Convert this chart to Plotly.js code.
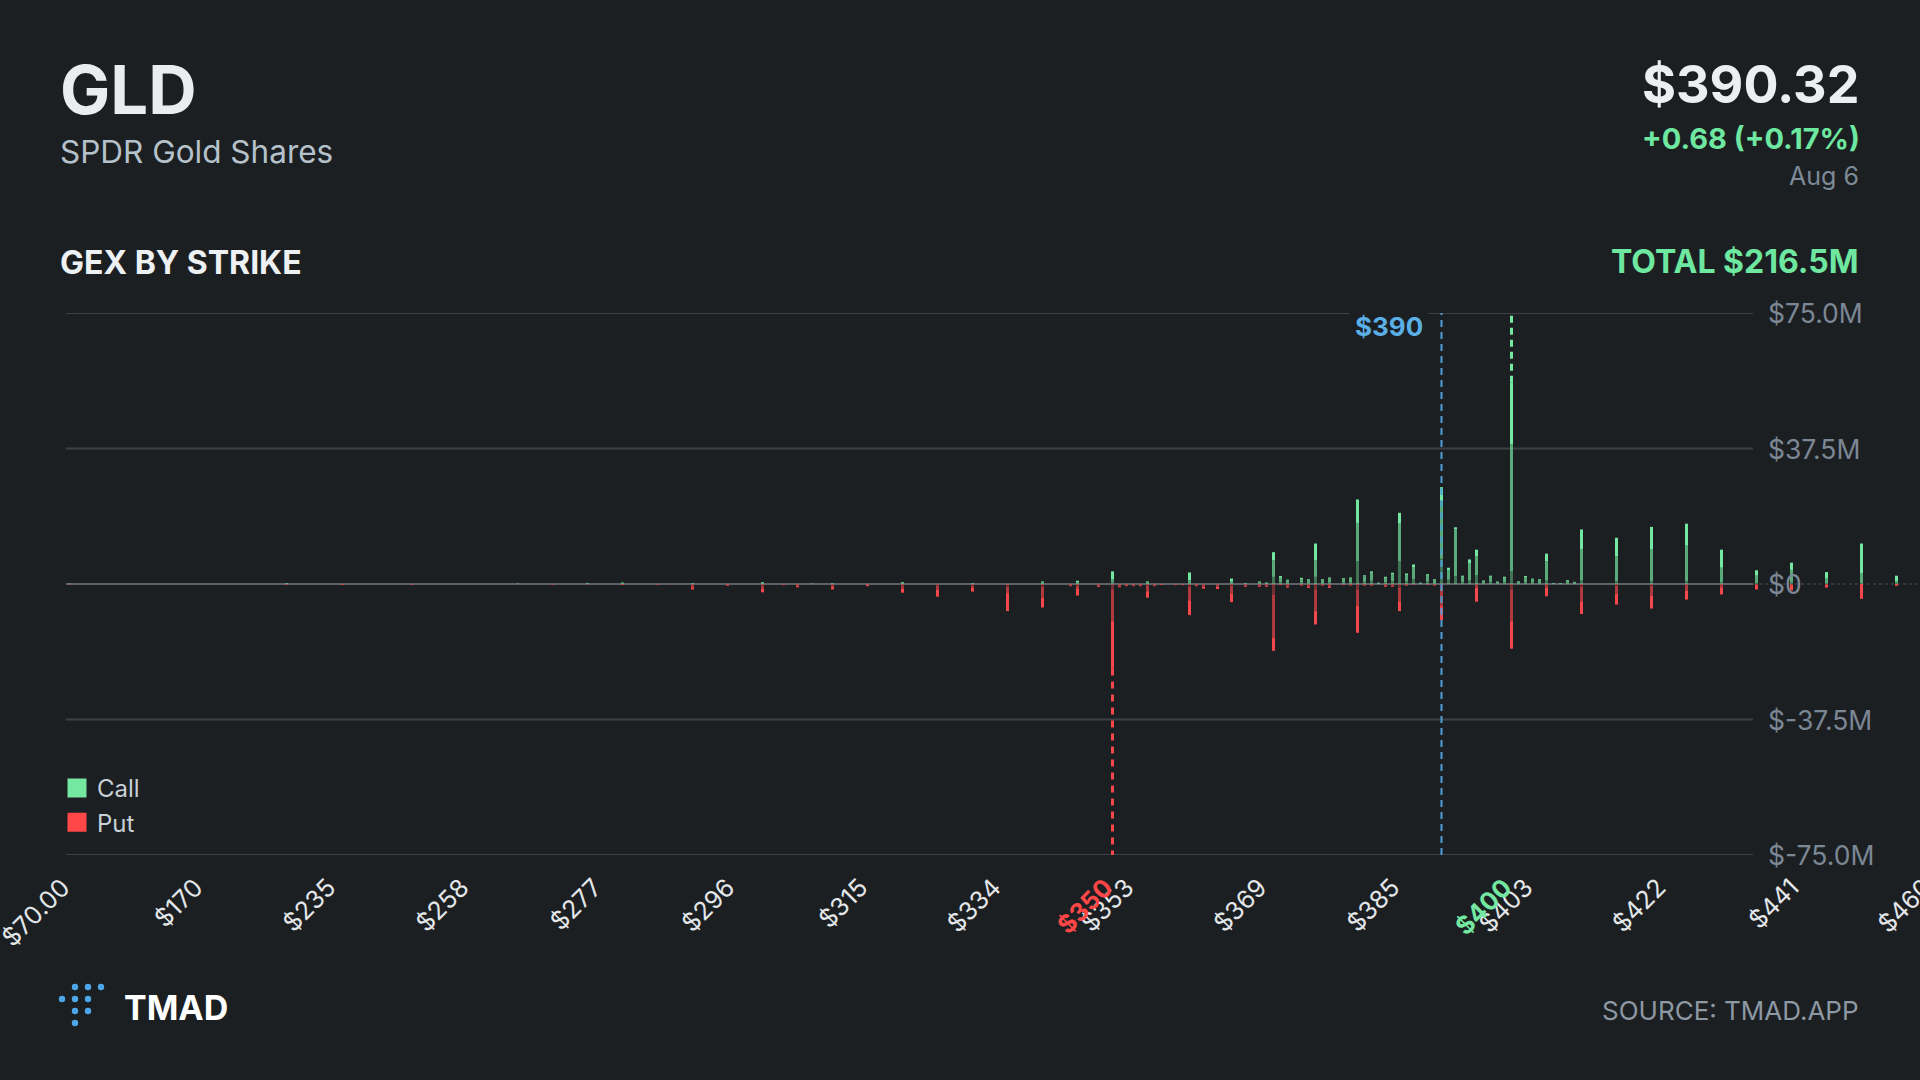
<!DOCTYPE html>
<html>
<head>
<meta charset="utf-8">
<script src="https://cdn.plot.ly/plotly-3.0.1.min.js"></script>
<style>
html,body{margin:0;padding:0;background:#1c1f22;overflow:hidden;width:1920px;height:1080px;}
#chart{width:1960px;height:1080px;}
</style>
</head>
<body>
<div id="chart"></div>
<script>
// ---------- header text ----------
const ticker = "GLD";
const fundName = "SPDR Gold Shares";
const priceText = "$390.32";
const changeText = "+0.68 (+0.17%)";
const dateText = "Aug 6";
const sectionTitle = "GEX BY STRIKE";
const totalText = "TOTAL $216.5M";
const brandText = "TMAD";
const sourceText = "SOURCE: TMAD.APP";

// ---------- categories (all strikes on the axis) ----------
const strikes = [
  70,75,80,85,90,95,100,105,110,115,120,125,130,135,140,145,150,155,160,
  170,180,190,195,200,205,210,215,220,225,226,227,228,229,230,231,232,233,234,235,240,
  241,242,243,244,245,246,247,248,249,250,
  251,252,253,254,255,256,257,258,259,260,
  261,262,263,264,265,266,267,268,269,270,
  271,272,273,274,275,276,277,278,279,280,
  281,282,283,284,285,286,287,288,289,290,
  291,292,293,294,295,296,297,298,299,300,
  301,302,303,304,305,306,307,308,309,310,
  311,312,313,314,315,316,317,318,319,320,
  321,322,323,324,325,326,327,328,329,330,
  331,332,333,334,335,336,337,338,339,340,
  341,342,343,344,345,346,347,348,349,350,
  351,352,353,354,355,
  356,357,357.5,358,359,360,361,362,362.5,363,364,365,
  366,367,367.5,368,369,370,371,372,372.5,373,374,375,
  376,377,377.5,378,379,380,381,382,382.5,383,384,385,
  386,387,387.5,388,389,390,
  391,392,393,394,395,396,397,398,399,400,
  401,402,403,404,405,406,407,408,409,410,
  411,412,413,414,415,416,417,418,419,420,
  421,422,423,424,425,426,427,428,429,430,
  431,432,433,434,435,436,437,438,439,440,
  441,442,443,444,445,446,447,448,449,450,
  451,452,453,454,455,456,457,458,459,460,
  461,462,463,464,465
];
const tickStrikes = [70,170,235,258,277,296,315,334,353,369,385,403,422,441,460];
const tickLabels = ["$70.00","$170","$235","$258","$277","$296","$315","$334","$353","$369","$385","$403","$422","$441","$460"];

// ---------- bars: strikes that carry GEX ($M), split by expiry bucket ----------
const barStrikes = [70,228,240,250,265,270,275,280,285,287,
  290,295,300,303,305,307,310,315,320,325,
  330,335,340,344,345,348,350,351,352,353,
  354,355,356,357,358,359,360,361,362,363,
  365,367,368,369,370,371,372,373,374,375,
  376,377,378,379,380,381,382,382.5,383,384,
  385,386,387,387.5,388,389,390,391,392,393,
  394,395,396,397,398,399,400,401,402,403,
  404,405,406,407,408,409,410,415,420,425,
  430,435,440,445,450,455];
const callFar = [0,0,0,0,0,0,0.1,0.1,0,0,
  0,0,0.1,0,0,0,0,0,0.1,0,
  0,0,0.1,0,0.1,0,0.5,0,0,0,
  0,0.1,0,0,0,0,0.3,0,0,0,
  0.2,0.1,0.2,0.1,2.0,0.5,0.3,0.4,0.3,2.0,
  0.3,0.4,0.4,0.4,6.3,0.6,0.9,0.1,0.5,0.8,
  6.3,0.7,1.4,0.1,0.7,0.3,7.0,1.2,2.2,0.6,
  1.0,2.4,0.3,0.6,0.2,0.5,3.5,0.2,0.5,0.4,
  0.3,1.0,0.1,0,0.3,0.1,1.0,0.8,0.8,0.8,
  0.5,0.3,0.4,0.2,0.3,0.2];
const callMid = [0.1,0.2,0,0,0.1,0,0.2,0.2,0,0,
  0.2,0,0.2,0,0,0.1,0.1,0,0.2,0,
  0.1,0,0.3,0,0.3,0,0.8,0,0,0,
  0,0.3,0,0,0,0,0.7,0,0,0,
  0.5,0.2,0.4,0.2,4.6,1.2,0.7,1.0,0.8,4.6,
  0.8,1.1,1.0,1.1,10.6,1.5,2.2,0.3,1.2,1.9,
  10.4,1.8,3.3,0.3,1.6,0.8,15.9,2.7,13.0,1.4,
  4.8,5.3,0.6,1.4,0.4,1.2,35.1,0.5,1.4,0.9,
  0.8,5.3,0.2,0.2,0.6,0.4,8.7,6.9,8.7,9.8,
  4.0,2.0,3.5,1.3,2.6,0.6];
const callNear = [0,0,0,0,0,0,0,0.1,0,0,
  0,0,0.2,0,0,0,0.1,0,0.2,0,
  0.1,0,0.3,0,0.5,0,2.2,0,0,0,
  0,0.3,0,0,0,0,2.2,0,0,0,
  0.8,0,0.1,0.1,2.2,0.5,0.2,0.3,0.2,4.6,
  0.2,0.3,0.2,0.3,6.5,0.3,0.4,0,0.3,0.4,
  3.0,0.4,0.7,0,0.4,0.2,3.9,0.6,0.5,0.3,
  1.0,1.8,0.1,0.3,0.1,0.3,17.1,0.1,0.3,0.2,
  0.2,2.1,0,0,0.2,0.1,5.4,5.1,6.3,6.1,
  5.0,1.5,2.0,1.8,8.3,1.5];
const putFar = [0,0,0,0,0,0,0,0,0,0,
  -0.3,-0.1,-0.4,0,-0.1,0,-0.3,-0.1,-0.4,-0.5,
  -0.4,-0.8,-0.8,-0.1,-0.4,-0.2,-1.5,-0.2,-0.1,-0.1,
  -0.1,-0.4,-0.1,0,0,0,-0.8,-0.1,-0.2,-0.2,
  -0.5,-0.2,-0.2,-0.2,-3.0,0,-0.2,-0.1,-0.2,-1.5,
  -0.1,-0.2,0,-0.1,-1.5,-0.1,-0.1,0,-0.2,-0.2,
  -1.0,-0.1,0,0,0,-0.1,-1.0,0,0,0,
  0,-0.3,0,0,0,0,-1.5,0,0,0,
  0,-0.3,0,0,0,0,-0.8,-0.5,-0.5,-0.3,
  -0.2,0,0,0,0,0];
const putMid = [-0.1,-0.2,-0.3,-0.2,0,-0.2,-0.1,-0.2,-0.2,-0.1,
  -0.6,-0.2,-0.9,-0.2,-0.4,0,-0.5,-0.2,-0.9,-1.0,
  -0.7,-1.7,-3.0,-0.3,-0.8,-0.3,-8.8,-0.4,-0.3,-0.3,
  -0.3,-1.6,-0.3,-0.2,-0.2,-0.2,-3.7,-0.3,-0.6,-0.6,
  -2.1,-0.4,-0.4,-0.4,-11.9,-0.2,-0.5,-0.3,-0.5,-6.0,
  -0.3,-0.5,-0.2,-0.2,-4.6,-0.3,-0.3,0,-0.4,-0.4,
  -3.8,-0.3,-0.1,0,-0.1,-0.3,-5.1,0,0,0,
  0,-0.7,0,0,0,0,-8.8,0,0,0,
  0,-0.7,0,0,0,0,-4.0,-2.2,-2.8,-1.5,
  -0.7,-0.3,-0.3,-0.2,0,0];
const putNear = [0,0,0,0,0,0,0,-0.1,0,0,
  -0.6,-0.2,-1.0,-0.1,-0.4,0,-0.7,-0.3,-1.1,-2.0,
  -1.0,-5.0,-2.7,-0.2,-2.0,-0.3,-13.1,-0.3,-0.2,-0.2,
  -0.2,-1.8,-0.2,-0.1,-0.1,-0.1,-4.1,-0.2,-0.5,-0.6,
  -2.4,-0.2,-0.2,-0.2,-3.6,-0.1,-0.3,-0.1,-0.4,-3.7,
  -0.1,-0.4,-0.1,-0.1,-7.4,-0.1,-0.1,0,-0.2,-0.2,
  -2.7,-0.1,-0.1,0,-0.1,-0.1,-3.9,0,0,0,
  0,-3.9,0,0,0,0,-7.6,0,0,0,
  0,-2.4,0,0,0,0,-3.5,-3.0,-3.5,-2.5,
  -2.0,-1.2,-1.5,-0.8,-4.1,-0.5];

// ---------- y axis ticks ($M) ----------
const yRange = [-75, 75];
const yTickVals = [75, 37.5, 0, -37.5, -75];
const yTickText = ["$75.0M", "$37.5M", "$0", "$-37.5M", "$-75.0M"];

// ---------- reference strikes ----------
const spotStrike = 390;
const spotLabel = "$390";
const callWallStrike = 400;
const putWallStrike = 350;

// ---------- styling ----------
const FONT = "Inter, 'Noto Sans', sans-serif";
const BG = "#1c1f22";
const GREEN = "#74e8a0", RED = "#f4474b", BLUE = "#4f9fd6";
const W = 1960, H = 1080, ML = 66, MT = 313, MB = 225, PW = 1890, PH = 542;
const MR = W - ML - PW;
const px2x = p => (p - ML) / PW;
const py2y = p => (MT + PH - p) / PH;

const cat = s => String(s);
const xs = barStrikes.map(cat);
const catIndex = s => strikes.indexOf(s);

function barTrace(vals, color, name) {
  return {type: "bar", x: xs, y: vals, name: name, showlegend: false,
    marker: {color: color, line: {width: 0}}, hoverinfo: "x+y"};
}
const traces = [
  barTrace(callFar, "rgba(116,232,160,0.42)", "Call"),
  barTrace(callMid, "rgba(116,232,160,0.70)", "Call"),
  barTrace(callNear, GREEN, "Call"),
  barTrace(putFar, "rgba(244,71,75,0.42)", "Put"),
  barTrace(putMid, "rgba(244,71,75,0.68)", "Put"),
  barTrace(putNear, RED, "Put"),
  {type: "scatter", mode: "markers", x: [null], y: [null], name: "Call",
    marker: {symbol: "square", size: 16, color: GREEN, line: {width: 3, color: GREEN}}},
  {type: "scatter", mode: "markers", x: [null], y: [null], name: "Put",
    marker: {symbol: "square", size: 16, color: "#ff4747", line: {width: 3, color: "#ff4747"}}},
  {type: "scatter", mode: "markers", x: [cat(putWallStrike)], y: [null], xaxis: "x2", showlegend: false, hoverinfo: "skip"},
  {type: "scatter", mode: "markers", x: [cat(callWallStrike)], y: [null], xaxis: "x3", showlegend: false, hoverinfo: "skip"}
];

const sumAt = (arrs, s) => arrs.reduce((a, arr) => a + arr[barStrikes.indexOf(s)], 0);
const callWallTop = sumAt([callFar, callMid, callNear], callWallStrike);
const putWallBottom = sumAt([putFar, putMid, putNear], putWallStrike);

const baseX = {
  type: "category", categoryorder: "array", categoryarray: strikes.map(cat),
  range: [-0.5, 269.5], showgrid: false, zeroline: false, showline: false,
  ticks: "", tickangle: -45, fixedrange: true, automargin: false,
  ticklabelstandoff: 12, ticklabelshift: -7
};
const xaxis = Object.assign({}, baseX, {
  tickmode: "array", tickvals: tickStrikes.map(cat), ticktext: tickLabels,
  tickfont: {family: FONT, size: 25, color: "#e3e7ea"}
});
const xaxis2 = Object.assign({}, baseX, {
  overlaying: "x", anchor: "y", side: "bottom",
  tickmode: "array", tickvals: [cat(putWallStrike)], ticktext: ["$" + putWallStrike],
  tickfont: {family: FONT, size: 25, color: "#ff4747", weight: 700}
});
const xaxis3 = Object.assign({}, baseX, {
  overlaying: "x", anchor: "y", side: "bottom",
  tickmode: "array", tickvals: [cat(callWallStrike)], ticktext: ["$" + callWallStrike],
  tickfont: {family: FONT, size: 25, color: GREEN, weight: 700}
});

const gridEnd = px2x(1753);
const shapes = [];
yTickVals.forEach(v => {
  shapes.push({type: "line", layer: "below", xref: "paper", yref: "y", x0: 0, x1: gridEnd, y0: v, y1: v,
    line: {color: v === 0 ? "#5d6165" : "#3d4145", width: 2}});
});
shapes.push({type: "line", layer: "below", xref: "paper", yref: "y", x0: gridEnd, x1: 1, y0: 0, y1: 0,
  line: {color: "#33373b", width: 2, dash: "dot"}});
shapes.push({type: "line", xref: "x", yref: "paper", x0: catIndex(spotStrike), x1: catIndex(spotStrike), y0: 0, y1: 1,
  line: {color: BLUE, width: 2, dash: "7px,5px"}});
shapes.push({type: "line", xref: "x", yref: "y", x0: catIndex(callWallStrike), x1: catIndex(callWallStrike), y0: callWallTop, y1: yRange[1],
  line: {color: GREEN, width: 3, dash: "7px,5px"}});
shapes.push({type: "line", xref: "x", yref: "y", x0: catIndex(putWallStrike), x1: catIndex(putWallStrike), y0: putWallBottom, y1: yRange[0],
  line: {color: RED, width: 3, dash: "7px,6px"}});
// TMAD logo dots
const logoCols = [62, 75, 88, 101], logoRows = [987, 999, 1011, 1023];
const logoPattern = [[0,1,1,1],[1,1,1,0],[0,1,1,0],[0,1,0,0]];
logoPattern.forEach((row, r) => row.forEach((on, c) => {
  if (!on) return;
  const cx = logoCols[c], cy = logoRows[r], rad = 3.2;
  shapes.push({type: "circle", xref: "paper", yref: "paper", x0: px2x(cx - rad), x1: px2x(cx + rad),
    y0: py2y(cy + rad), y1: py2y(cy - rad), fillcolor: "#4da6e8", line: {width: 0}});
}));

function txt(text, xPx, yPx, anchor, size, weight, color) {
  return {text: text, xref: "paper", yref: "paper", x: px2x(xPx), y: py2y(yPx), xanchor: anchor, yanchor: "middle",
    showarrow: false, font: {family: FONT, size: size, weight: weight, color: color}};
}
const annotations = [
  txt(ticker, 58, 89, "left", 67, 700, "#e9edf0"),
  txt(fundName, 58, 152, "left", 31.5, 400, "#b6c2cb"),
  txt(sectionTitle, 58, 262, "left", 32, 700, "#eef1f3"),
  txt(priceText, 1861, 85, "right", 52, 700, "#eceff1"),
  txt(changeText, 1862, 138, "right", 29, 700, "#6ee7a0"),
  txt(dateText, 1861, 176, "right", 25, 400, "#7d8a97"),
  txt(totalText, 1861, 261, "right", 32, 700, "#6ee7a0"),
  txt(brandText, 122, 1007, "left", 34, 700, "#ffffff"),
  txt(sourceText, 1861, 1010, "right", 26, 400, "#8c98a3"),
  {text: spotLabel, xref: "x", yref: "y", x: catIndex(spotStrike), y: yRange[1], xanchor: "right", yanchor: "middle",
    xshift: -13, yshift: -13, showarrow: false, bgcolor: BG, borderpad: 5,
    font: {family: FONT, size: 26, weight: 700, color: "#5aafe6"}}
];
yTickVals.forEach((v, i) => {
  annotations.push({text: yTickText[i], xref: "paper", yref: "y", x: px2x(1766), y: v, xanchor: "left", yanchor: "middle",
    showarrow: false, font: {family: FONT, size: 26.5, color: "#7b8794"}});
});

const layout = {
  width: W, height: H,
  margin: {l: ML, r: MR, t: MT, b: MB, pad: 0},
  paper_bgcolor: BG, plot_bgcolor: BG,
  barmode: "relative", bargap: 0.57,
  font: {family: FONT, color: "#e3e7ea"},
  showlegend: true,
  legend: {x: px2x(57), y: py2y(766), xanchor: "left", yanchor: "top", bgcolor: "rgba(0,0,0,0)",
    font: {family: FONT, size: 24, color: "#c8d0d8"}, tracegroupgap: 0, itemclick: false, itemdoubleclick: false},
  xaxis: xaxis, xaxis2: xaxis2, xaxis3: xaxis3,
  yaxis: {range: yRange, showticklabels: false, showgrid: false, zeroline: false, showline: false, fixedrange: true, automargin: false},
  shapes: shapes, annotations: annotations, hovermode: false
};

Plotly.newPlot("chart", traces, layout, {displayModeBar: false, staticPlot: true});
</script>
</body>
</html>
